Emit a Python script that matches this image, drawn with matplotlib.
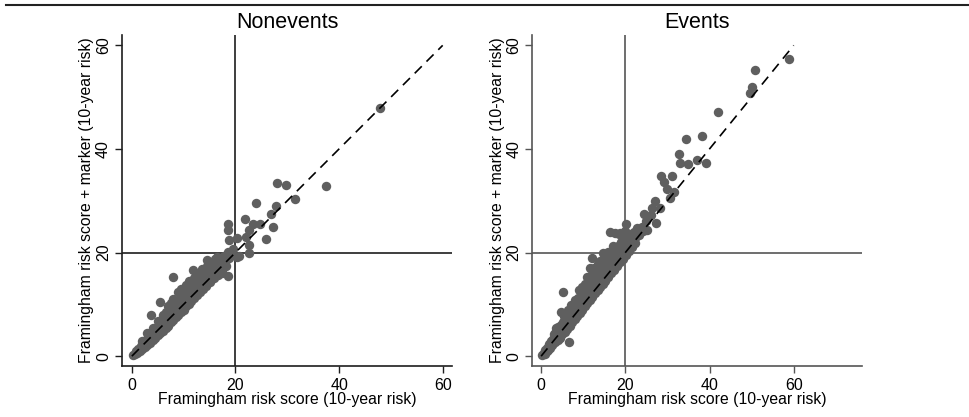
import numpy as np
from matplotlib import pyplot as plt
from matplotlib.lines import Line2D

plt.rcParams['font.family'] = ['Liberation Sans', 'DejaVu Sans']

# (Framingham risk score, Framingham + marker), 10-year risk in %
nonevents_band = [
    (0.3, 0.2), (0.6, 0.5), (0.8, 1.0), (1.0, 0.7), (1.2, 1.4), (1.4, 1.1), (1.5, 0.9),
    (1.7, 2.0), (1.9, 1.6), (2.0, 1.3), (2.2, 2.4), (2.4, 2.0), (2.5, 1.7), (2.7, 3.1),
    (2.8, 2.5), (3.0, 2.2), (3.1, 3.5), (3.3, 2.9), (3.5, 2.6), (3.6, 4.0), (3.8, 3.4),
    (4.0, 3.1), (4.1, 4.6), (4.2, 3.8), (4.5, 3.5), (4.6, 5.2), (4.8, 4.3), (5.0, 4.0),
    (5.1, 5.9), (5.3, 4.9), (5.5, 4.4), (5.6, 6.4), (5.8, 5.5), (6.0, 4.9), (6.1, 7.0),
    (6.3, 6.0), (6.5, 5.4), (6.6, 7.6), (6.8, 6.6), (7.0, 5.9), (7.1, 8.3), (7.3, 7.1),
    (7.5, 6.5), (7.6, 8.9), (7.8, 7.7), (8.0, 7.0), (8.1, 9.5), (8.3, 8.2), (8.5, 7.5),
    (8.6, 10.2), (8.8, 8.8), (9.0, 8.0), (9.1, 10.8), (9.3, 9.3), (9.5, 8.5), (9.6, 11.4),
    (9.8, 9.9), (10.0, 9.0), (10.1, 12.0), (10.3, 10.5), (10.5, 9.6), (10.6, 12.6),
    (10.8, 11.0), (11.0, 10.1), (11.1, 13.2), (11.3, 11.6), (11.5, 10.6), (11.6, 13.8),
    (11.8, 12.1), (12.0, 11.2), (12.2, 14.2), (12.4, 12.7), (12.6, 11.8), (12.8, 14.8),
    (13.0, 13.3), (13.2, 12.4), (13.4, 15.3), (13.6, 13.9), (13.8, 13.0), (14.0, 16.0),
    (14.2, 14.5), (14.4, 13.6), (14.7, 16.6), (14.9, 15.1), (15.1, 14.3), (15.4, 17.2),
    (15.6, 15.8), (15.8, 15.0), (16.2, 17.6), (16.4, 16.4), (16.6, 15.7), (17.0, 18.3),
    (17.2, 17.1), (17.4, 16.5), (17.8, 19.3), (18.0, 18.0), (18.2, 17.4), (18.6, 20.2),
    (18.8, 19.0), (19.2, 19.8), (19.6, 20.6), (2.0, 3.0), (3.0, 4.4), (4.0, 5.5),
    (5.0, 6.8), (6.0, 8.0), (7.0, 9.6), (8.0, 11.0), (9.0, 12.4), (10.5, 13.8),
    (11.0, 14.5), (12.5, 15.6), (13.5, 16.8), (15.0, 18.0), (16.0, 18.8), (6.2, 6.8),
    (8.4, 9.2), (11.4, 12.3), (13.1, 14.2), (9.5, 12.9), (12.0, 15.0), (14.5, 17.5),
    (7.5, 10.3), (6.5, 8.6),
]
nonevents_outliers = [
    (47.9, 47.9), (37.5, 32.9), (28.1, 33.5), (29.7, 33.0), (31.5, 30.3), (23.9, 29.6),
    (27.9, 29.0), (26.8, 27.4), (27.3, 25.0), (21.8, 26.5), (23.4, 25.5), (24.8, 25.5),
    (25.9, 22.7), (18.5, 25.5), (18.5, 24.4), (22.6, 24.4), (22.1, 23.0), (20.3, 22.8),
    (18.7, 22.5), (22.6, 21.4), (22.6, 19.9), (20.6, 19.4), (18.5, 15.4), (7.9, 15.2),
    (5.4, 10.5), (3.7, 7.9), (11.8, 16.6), (14.5, 18.6), (16.5, 19.2), (17.1, 17.9),
    (17.4, 16.0), (20.3, 19.2),
]

events_band = [
    (0.3, 0.2), (0.6, 0.6), (0.9, 0.4), (1.0, 1.2), (1.3, 0.9), (1.5, 1.6), (1.7, 1.2),
    (1.9, 2.3), (2.1, 1.6), (2.3, 2.9), (2.5, 2.1), (2.7, 3.4), (2.9, 2.5), (3.0, 4.2),
    (3.2, 3.0), (3.4, 2.7), (3.5, 4.8), (3.7, 3.6), (3.9, 3.1), (4.0, 5.6), (4.2, 4.2),
    (4.4, 3.6), (4.6, 6.0), (4.8, 4.8), (5.0, 4.2), (5.2, 6.6), (5.4, 5.4), (5.6, 4.7),
    (5.8, 7.4), (6.0, 6.0), (6.2, 5.3), (6.4, 8.0), (6.6, 6.7), (6.8, 5.9), (7.0, 8.8),
    (7.2, 7.3), (7.4, 6.5), (7.6, 9.6), (7.8, 8.0), (8.0, 7.1), (8.2, 10.4), (8.4, 8.7),
    (8.6, 7.7), (8.8, 11.2), (9.0, 9.5), (9.2, 8.3), (9.4, 11.9), (9.6, 10.1), (9.8, 9.0),
    (10.0, 12.6), (10.2, 10.8), (10.4, 9.6), (10.6, 13.2), (10.8, 11.4), (11.0, 10.2),
    (11.2, 13.8), (11.4, 12.0), (11.6, 10.9), (11.8, 14.5), (12.0, 12.7), (12.2, 11.5),
    (12.4, 15.3), (12.6, 13.3), (12.8, 12.1), (13.0, 16.0), (13.2, 14.0), (13.4, 12.8),
    (13.6, 16.5), (13.8, 14.6), (14.0, 13.4), (14.2, 17.2), (14.4, 15.3), (14.6, 14.0),
    (14.8, 17.8), (15.0, 15.9), (15.2, 14.6), (15.5, 18.4), (15.7, 16.5), (15.9, 15.3),
    (16.2, 19.0), (16.4, 17.2), (16.6, 16.0), (16.9, 19.6), (17.1, 17.9), (17.3, 16.7),
    (17.6, 20.4), (17.8, 18.6), (18.0, 17.4), (18.3, 21.2), (18.5, 19.3), (18.7, 18.1),
    (19.0, 22.0), (19.2, 20.0), (19.4, 18.8), (19.7, 22.6), (19.9, 20.8), (20.1, 19.6),
    (20.4, 23.2), (20.6, 21.4), (20.8, 20.3), (21.2, 23.6), (21.4, 22.1), (21.6, 21.0),
    (22.0, 24.0), (22.2, 22.8), (22.4, 21.8), (23.0, 24.4), (23.2, 23.4), (24.0, 25.0),
    (24.2, 24.2), (25.0, 26.0), (26.0, 27.2), (3.5, 5.5), (5.5, 7.8), (6.5, 9.0),
    (8.0, 10.8), (9.0, 12.8), (10.5, 14.0), (11.0, 15.2), (12.0, 15.8), (12.5, 17.0),
    (14.0, 18.4), (15.0, 19.8), (16.0, 20.2), (17.0, 21.2), (18.5, 23.5), (19.5, 23.8),
    (20.0, 24.2), (18.7, 23.7), (17.5, 23.8), (13.5, 17.8), (9.8, 13.4), (7.2, 9.9),
]
events_outliers = [
    (59.0, 57.4), (50.9, 55.2), (50.1, 52.0), (49.7, 50.8), (41.9, 47.1), (34.4, 41.9),
    (38.3, 42.5), (32.7, 39.0), (33.0, 37.2), (34.8, 37.0), (37.0, 37.9), (39.2, 37.2),
    (28.5, 34.7), (29.2, 33.7), (31.2, 34.7), (29.8, 32.3), (31.6, 31.6), (30.5, 30.5),
    (27.1, 30.0), (26.3, 28.6), (28.3, 28.6), (24.4, 27.5), (27.3, 25.8), (25.1, 24.4),
    (16.3, 23.9), (20.2, 25.5), (22.7, 24.7), (12.0, 19.0), (11.7, 17.1), (14.8, 19.9),
    (5.3, 12.4), (4.6, 8.5), (6.6, 2.8),
]

panels = [
    ("Nonevents", nonevents_band + nonevents_outliers, (-1.9, 61.8), "#1e1e1e"),
    ("Events", events_band + events_outliers, (-2.1, 76.3), "#555555"),
]
ticks = [0, 20, 40, 60]
dot_color = "#5f5f5f"

fig = plt.figure(figsize=(9.7, 4.17), dpi=100)
fig.add_artist(Line2D([6 / 970, 1], [412 / 417, 412 / 417], color="#222222", lw=1.5))

lefts = [122 / 970, 532.3 / 970]
for left, (title, pts, xlim, line_color) in zip(lefts, panels):
    ax = fig.add_axes([left, 51 / 417, 330 / 970, 331 / 417])
    pts = np.array(pts)
    ax.scatter(pts[:, 0], pts[:, 1], s=46, color=dot_color, linewidths=0, zorder=2)
    ax.axhline(20, color=line_color, lw=1.2, zorder=1)
    ax.axvline(20, color=line_color, lw=1.2, zorder=1)
    ax.plot([0, 60], [0, 60], color="black", lw=1.2, dashes=(6, 4), zorder=3)

    ax.set_xlim(*xlim)
    ax.set_ylim(-1.9, 62.0)
    ax.set_xticks(ticks)
    ax.set_yticks(ticks)
    ax.set_yticklabels([str(t) for t in ticks], rotation=90, va="center")
    ax.tick_params(labelsize=11.5, length=5, width=1, color=line_color, pad=3)
    ax.tick_params(axis="x", pad=4)

    for side in ["top", "right"]:
        ax.spines[side].set_visible(False)
    for side in ["left", "bottom"]:
        ax.spines[side].set_color(line_color)
        ax.spines[side].set_linewidth(1.2)

    ax.set_title(title, fontsize=15.5, pad=5)
    ax.set_xlabel("Framingham risk score (10-year risk)", fontsize=11.3, labelpad=-1)
    ax.set_ylabel("Framingham risk score + marker (10-year risk)", fontsize=11.3, labelpad=1)

fig.savefig("out.png", dpi=100)
